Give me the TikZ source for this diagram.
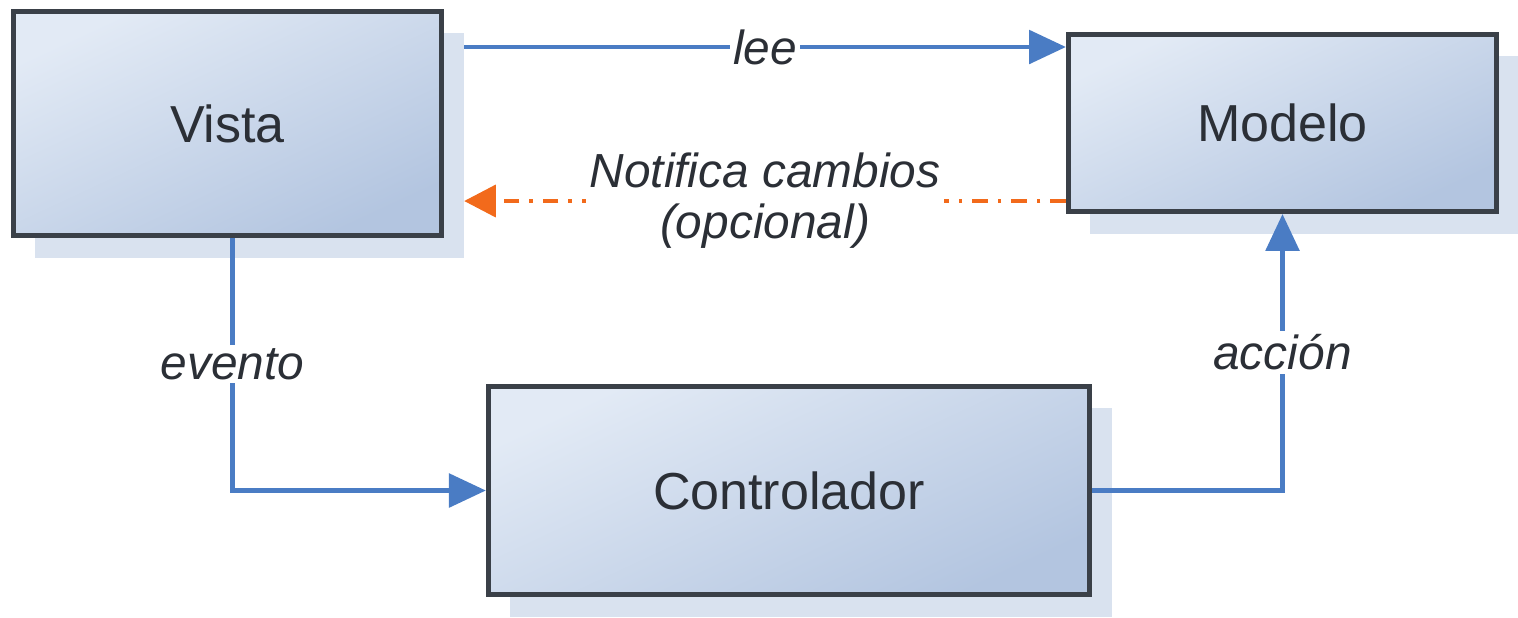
\documentclass[tikz,border=0pt]{standalone}
\usepackage{fontspec}
\setmainfont{Liberation Sans}
\usetikzlibrary{arrows.meta,shadows}

\definecolor{boxlight}{HTML}{E2EAF5}
\definecolor{boxdark}{HTML}{B3C5E0}
\definecolor{boxline}{HTML}{3A4048}
\definecolor{shadowblue}{HTML}{D9E2EF}
\definecolor{flowblue}{HTML}{4A7CC4}
\definecolor{notiorange}{HTML}{F26A1B}
\definecolor{textgray}{HTML}{2B2F36}

\tikzstyle{block}=[draw=boxline,line width=1.4pt,top color=boxlight,bottom color=boxdark,shading angle=25,
  drop shadow={shadow xshift=0.22cm,shadow yshift=-0.22cm,fill=shadowblue,opacity=1},
  text=textgray,font=\fontsize{14.8}{17}\selectfont,inner sep=0pt]
\tikzstyle{flow} = [draw=flowblue,line width=1.3pt,-{Triangle[length=10.5pt,width=9.5pt]}]
\tikzstyle{notify} = [draw=notiorange,line width=1.3pt,dash pattern=on 4.5pt off 2.8pt on 1pt off 2.8pt,
  -{Triangle[length=9pt,width=9pt]}]
\tikzstyle{lbl} = [fill=white,inner sep=1pt,text=textgray,align=center,
  font=\fontsize{13.6}{14.5}\selectfont\itshape]

\begin{document}
\begin{tikzpicture}[x=0.01cm,y=-0.01cm]
		\useasboundingbox (0,0) rectangle (1518,617);
		\node[block,minimum width=4.28cm,minimum height=2.24cm] (vista) at (227.5,123.5) {Vista};
		\node[block,minimum width=4.28cm,minimum height=1.77cm] (modelo) at (1282.5,123) {Modelo};
		\node[block,minimum width=6.01cm,minimum height=2.08cm] (controlador) at (789,490.5) {Controlador};
		% Vista reads the model
		\draw[flow] ([xshift=0.2cm,yshift=-0.15cm]vista.east |- modelo.north) -- ([yshift=-0.15cm]modelo.north west)
			node[lbl,midway] {lee};
		% optional change notification
		\draw[notify] ([yshift=0.13cm]modelo.south west) -- ([xshift=0.2cm,yshift=0.13cm]vista.east |- modelo.south)
			node[lbl,midway] {Notifica cambios\\(opcional)};
		% events and actions through the controller
		\draw[flow] ([xshift=0.05cm]vista.south) -- ([xshift=0.05cm]vista.south |- controlador.west)
			node[lbl,pos=0.5] {evento} -- (controlador.west);
		\draw[flow] (controlador.east) -| (modelo.south)
			node[lbl,pos=0.75] {acción};
\end{tikzpicture}
\end{document}
